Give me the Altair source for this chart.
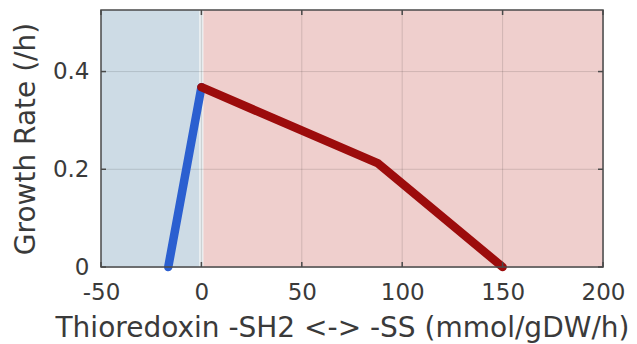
import altair as alt
import pandas as pd

# Data
blue_x = [-16.5, 0.0]
blue_y = [0.0, 0.368]
red_x = [0.0, 88.0, 150.0]
red_y = [0.368, 0.212, 0.0]

x_ticks = [-50, 0, 50, 100, 150, 200]
y_ticks = [0, 0.2, 0.4]
x_domain = [-50, 200]
y_domain = [0, 0.526]

region_x1 = [-50, -1, 1]
region_x2 = [-1, 1, 200]
region_col = ["#cddbe5", "#e7ecee", "#efcfcd"]

W, H = 502, 257
TICK = 5

regions = pd.DataFrame({
    "x1": region_x1, "x2": region_x2,
    "y1": [y_domain[0]] * 3, "y2": [y_domain[1]] * 3,
    "c": region_col,
})
blue = pd.DataFrame({"x": blue_x, "y": blue_y})
red = pd.DataFrame({"x": red_x, "y": red_y})
xg = pd.DataFrame({"v": x_ticks[1:-1]})
yg = pd.DataFrame({"v": y_ticks[1:]})
xt = pd.DataFrame({"v": x_ticks})
yt = pd.DataFrame({"v": y_ticks})
frame = pd.DataFrame({"x1": [x_domain[0]], "x2": [x_domain[1]],
                      "y1": [y_domain[0]], "y2": [y_domain[1]]})

FONT = "DejaVu Sans"
TXT = "#3a3a3a"
FRAME = "#4a4a4a"

xs = alt.Scale(domain=x_domain, nice=False, zero=False)
ys = alt.Scale(domain=y_domain, nice=False, zero=False)

xaxis = alt.Axis(values=x_ticks, title="Thioredoxin -SH2 <-> -SS (mmol/gDW/h)",
                 labelExpr="datum.value + ''", grid=False, ticks=False, domain=False,
                 labelFlush=False,
                 labelFont=FONT, labelFontSize=23, labelColor=TXT, labelPadding=14,
                 titleFont=FONT, titleFontSize=28, titleColor=TXT, titleFontWeight="normal",
                 titlePadding=10, titleAnchor="start", titleX=-46)
yaxis = alt.Axis(values=y_ticks, title="Growth Rate (/h)",
                 labelExpr="datum.value + ''", grid=False, ticks=False, domain=False,
                 labelFlush=False,
                 labelFont=FONT, labelFontSize=23, labelColor=TXT, labelPadding=12,
                 titleFont=FONT, titleFontSize=28, titleColor=TXT, titleFontWeight="normal",
                 titlePadding=12)

bg = alt.Chart(regions).mark_rect().encode(
    x=alt.X("x1:Q", scale=xs, axis=xaxis),
    x2="x2:Q",
    y=alt.Y("y1:Q", scale=ys, axis=yaxis),
    y2="y2:Q",
    color=alt.Color("c:N", scale=None, legend=None),
)

gx = alt.Chart(xg).mark_rule(color="black", opacity=0.13, strokeWidth=1).encode(
    x=alt.X("v:Q", scale=xs))
gy = alt.Chart(yg).mark_rule(color="black", opacity=0.13, strokeWidth=1).encode(
    y=alt.Y("v:Q", scale=ys))

# inward tick marks on all four sides
tb = alt.Chart(xt).mark_rule(color=FRAME, strokeWidth=1.5).encode(
    x=alt.X("v:Q", scale=xs), y=alt.value(H), y2=alt.value(H - TICK))
tt = alt.Chart(xt).mark_rule(color=FRAME, strokeWidth=1.5).encode(
    x=alt.X("v:Q", scale=xs), y=alt.value(0), y2=alt.value(TICK))
tl = alt.Chart(yt).mark_rule(color=FRAME, strokeWidth=1.5).encode(
    y=alt.Y("v:Q", scale=ys), x=alt.value(0), x2=alt.value(TICK))
tr = alt.Chart(yt).mark_rule(color=FRAME, strokeWidth=1.5).encode(
    y=alt.Y("v:Q", scale=ys), x=alt.value(W), x2=alt.value(W - TICK))

lb = alt.Chart(blue).mark_line(color="#2b5fd0", strokeWidth=8.5, strokeCap="round",
                               strokeJoin="round").encode(
    x=alt.X("x:Q", scale=xs), y=alt.Y("y:Q", scale=ys))
lr = alt.Chart(red).mark_line(color="#9c0c0c", strokeWidth=8.5, strokeCap="round",
                              strokeJoin="round").encode(
    x=alt.X("x:Q", scale=xs), y=alt.Y("y:Q", scale=ys))

fr = alt.Chart(frame).mark_rect(filled=False, stroke=FRAME, strokeWidth=1.5).encode(
    x=alt.X("x1:Q", scale=xs), x2="x2:Q", y=alt.Y("y1:Q", scale=ys), y2="y2:Q")

chart = alt.layer(bg, gx, gy, lb, lr, tb, tt, tl, tr, fr).properties(
    width=W, height=H,
    autosize=alt.AutoSizeParams(type="none"),
    padding={"left": 93, "top": 2, "right": 26, "bottom": 76},
).configure_view(stroke=None).configure(background="white")

chart.save("out.html", embed_options={"renderer": "svg", "actions": False})
